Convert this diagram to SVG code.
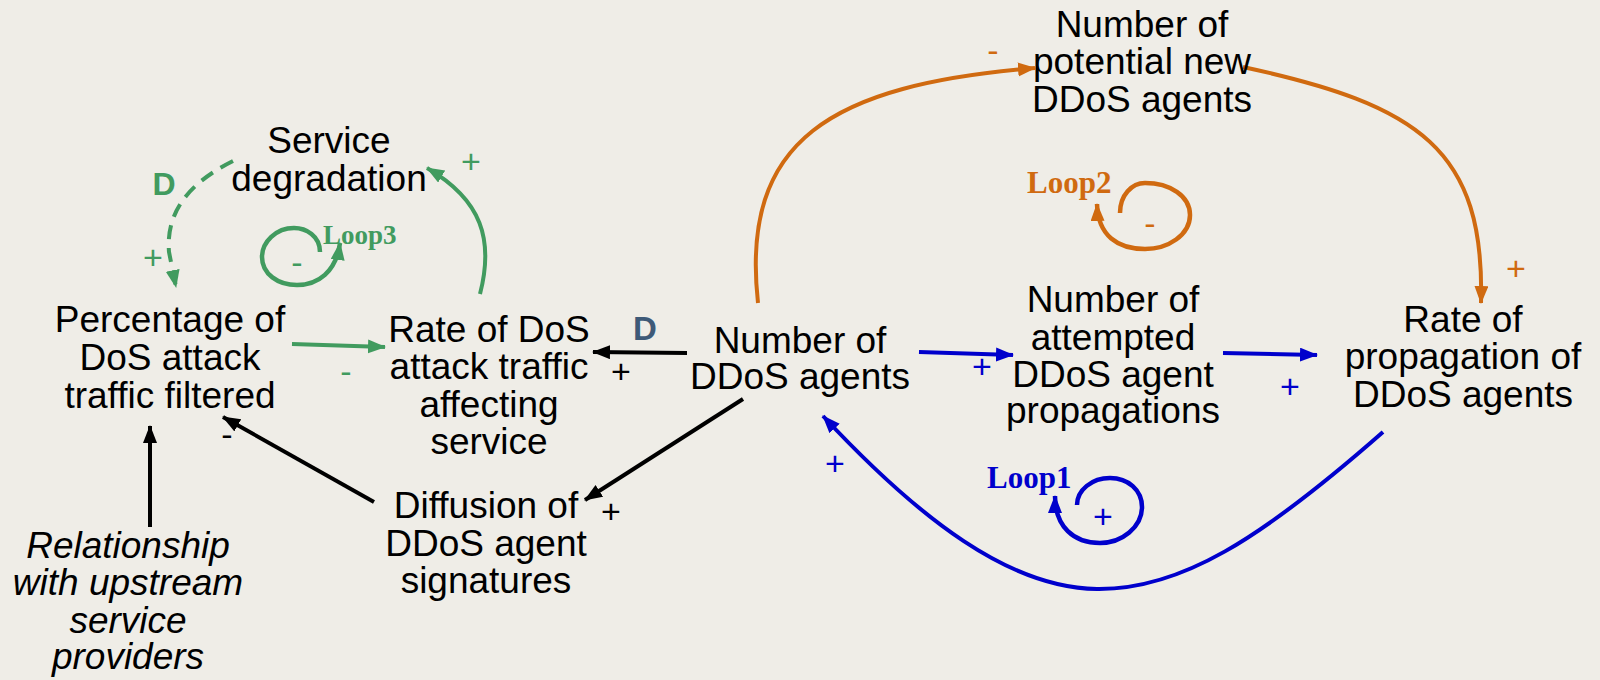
<svg xmlns="http://www.w3.org/2000/svg" width="1600" height="680" viewBox="0 0 1600 680">
  <style>
    .lbl { font-family: "Liberation Sans", Arial, sans-serif; font-size: 37px; fill: #000; text-anchor: middle; }
    .ital { font-style: italic; }
    .sign { font-family: "Liberation Sans", Arial, sans-serif; font-size: 34px; text-anchor: middle; }
    .loop { font-family: "Liberation Serif", "Times New Roman", serif; font-weight: bold; }
    .delay { font-family: "Liberation Sans", Arial, sans-serif; font-weight: bold; text-anchor: middle; }
    .green { stroke: #419B5F; }
    .orange { stroke: #D06A10; }
    .blue { stroke: #0000CC; }
    .black { stroke: #000; }
    .edge { fill: none; stroke-width: 4; }
    .cycle { fill: none; stroke-width: 4.5; }
  </style>
  <defs>
    <marker id="ah-green" markerUnits="userSpaceOnUse" markerWidth="20" markerHeight="16" refX="17" refY="7" orient="auto">
      <path d="M0,0 L18,7 L0,14 z" fill="#419B5F"/>
    </marker>
    <marker id="ah-orange" markerUnits="userSpaceOnUse" markerWidth="20" markerHeight="16" refX="17" refY="7" orient="auto">
      <path d="M0,0 L18,7 L0,14 z" fill="#D06A10"/>
    </marker>
    <marker id="ah-blue" markerUnits="userSpaceOnUse" markerWidth="20" markerHeight="16" refX="17" refY="7" orient="auto">
      <path d="M0,0 L18,7 L0,14 z" fill="#0000CC"/>
    </marker>
    <marker id="ah-black" markerUnits="userSpaceOnUse" markerWidth="20" markerHeight="16" refX="17" refY="7" orient="auto">
      <path d="M0,0 L18,7 L0,14 z" fill="#000"/>
    </marker>
  </defs>

  <rect width="1600" height="680" fill="#EFEDE7"/>

  <!-- causal links -->
  <g id="connectors">
    <!-- green: service degradation / filtering loop -->
    <path class="edge green" d="M233,161 C185,185 166,215 169,252 L176,287" stroke-dasharray="14,9" marker-end="url(#ah-green)"/>
    <path class="edge green" d="M480,294 C494,240 482,200 427,168" marker-end="url(#ah-green)"/>
    <path class="edge green" d="M292,344 L385,347" marker-end="url(#ah-green)"/>
    <path class="cycle green" d="M320,252 C320,236 306,228 294,228 C276,228 262,242 262,257 C262,274 278,285 297,285 C318,285 336,272 340,243" marker-end="url(#ah-green)"/>

    <!-- orange: potential new agents loop -->
    <path class="edge orange" d="M758,303 C740,140 830,85 1035,68" marker-end="url(#ah-orange)"/>
    <path class="edge orange" d="M1243,67 C1420,105 1485,150 1481,303" marker-end="url(#ah-orange)"/>
    <path class="cycle orange" d="M1120,213 C1120,195 1132,183 1145,183 C1170,183 1190,196 1190,215 C1190,235 1168,249 1145,249 C1118,249 1098,236 1097,204" marker-end="url(#ah-orange)"/>

    <!-- blue: propagation loop -->
    <path class="edge blue" d="M919,352 L1013,355" marker-end="url(#ah-blue)"/>
    <path class="edge blue" d="M1223,353 L1317,355" marker-end="url(#ah-blue)"/>
    <path class="edge blue" d="M1383,432 C1260,540 1180,590 1097,589 C1010,588 920,520 823,416" marker-end="url(#ah-blue)"/>
    <path class="cycle blue" d="M1077,505 C1077,490 1092,478 1110,478 C1128,478 1142,490 1142,507 C1142,527 1122,543 1100,543 C1074,543 1055,527 1055,496" marker-end="url(#ah-blue)"/>

    <!-- black links -->
    <path class="edge black" d="M687,353 L593,352" marker-end="url(#ah-black)"/>
    <path class="edge black" d="M743,399 L585,500" marker-end="url(#ah-black)"/>
    <path class="edge black" d="M374,502 L223,417" marker-end="url(#ah-black)"/>
    <path class="edge black" d="M150,527 L150,426" marker-end="url(#ah-black)"/>
  </g>

  <!-- polarity, delay and loop labels -->
  <g id="link-labels">
    <text class="delay" x="164" y="195" font-size="32" fill="#419B5F">D</text>
    <text class="sign" x="153" y="269" fill="#419B5F">+</text>
    <text class="sign" x="471" y="173" fill="#419B5F">+</text>
    <text class="sign" x="346" y="383" fill="#419B5F">-</text>
    <text class="sign" x="297" y="274" fill="#419B5F">-</text>
    <text class="loop" x="323" y="244" font-size="27" fill="#419B5F">Loop3</text>

    <text class="sign" x="993" y="62" fill="#D06A10">-</text>
    <text class="sign" x="1516" y="280" fill="#D06A10">+</text>
    <text class="sign" x="1150" y="235" fill="#D06A10">-</text>
    <text class="loop" x="1027" y="193" font-size="31" fill="#D06A10">Loop2</text>

    <text class="sign" x="982" y="378" fill="#0000CC">+</text>
    <text class="sign" x="1290" y="398" fill="#0000CC">+</text>
    <text class="sign" x="835" y="475" fill="#0000CC">+</text>
    <text class="sign" x="1103" y="528" fill="#0000CC">+</text>
    <text class="loop" x="987" y="488" font-size="31" fill="#0000CC">Loop1</text>

    <text class="delay" x="645" y="340" font-size="33" fill="#3E5A78">D</text>
    <text class="sign" x="621" y="383" fill="#000">+</text>
    <text class="sign" x="611" y="523" fill="#000">+</text>
    <text class="sign" x="227" y="446" fill="#000">-</text>
  </g>

  <!-- variables -->
  <g id="service-degradation">
    <text class="lbl" x="329" y="153">Service</text>
    <text class="lbl" x="329" y="191">degradation</text>
  </g>
  <g id="percentage-filtered">
    <text class="lbl" x="170" y="332">Percentage of</text>
    <text class="lbl" x="170" y="370">DoS attack</text>
    <text class="lbl" x="170" y="408">traffic filtered</text>
  </g>
  <g id="rate-dos-traffic">
    <text class="lbl" x="489" y="342">Rate of DoS</text>
    <text class="lbl" x="489" y="379">attack traffic</text>
    <text class="lbl" x="489" y="417">affecting</text>
    <text class="lbl" x="489" y="454">service</text>
  </g>
  <g id="number-ddos-agents">
    <text class="lbl" x="800" y="353">Number of</text>
    <text class="lbl" x="800" y="389">DDoS agents</text>
  </g>
  <g id="potential-new-agents">
    <text class="lbl" x="1142" y="37">Number of</text>
    <text class="lbl" x="1142" y="74">potential new</text>
    <text class="lbl" x="1142" y="112">DDoS agents</text>
  </g>
  <g id="attempted-propagations">
    <text class="lbl" x="1113" y="312">Number of</text>
    <text class="lbl" x="1113" y="350">attempted</text>
    <text class="lbl" x="1113" y="387">DDoS agent</text>
    <text class="lbl" x="1113" y="423">propagations</text>
  </g>
  <g id="rate-propagation">
    <text class="lbl" x="1463" y="332">Rate of</text>
    <text class="lbl" x="1463" y="369">propagation of</text>
    <text class="lbl" x="1463" y="407">DDoS agents</text>
  </g>
  <g id="diffusion-signatures">
    <text class="lbl" x="486" y="518">Diffusion of</text>
    <text class="lbl" x="486" y="556">DDoS agent</text>
    <text class="lbl" x="486" y="593">signatures</text>
  </g>
  <g id="upstream-relationship">
    <text class="lbl ital" x="128" y="558">Relationship</text>
    <text class="lbl ital" x="128" y="595">with upstream</text>
    <text class="lbl ital" x="128" y="633">service</text>
    <text class="lbl ital" x="128" y="669">providers</text>
  </g>
</svg>
